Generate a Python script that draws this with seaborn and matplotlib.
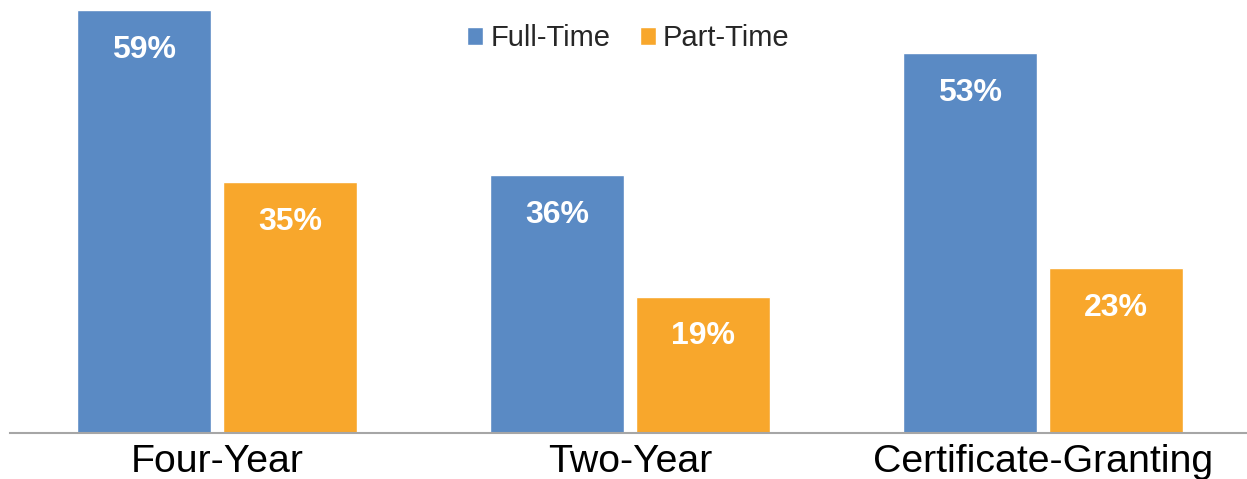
import matplotlib
matplotlib.use("Agg")
import matplotlib.pyplot as plt
import seaborn as sns
import pandas as pd

categories = ["Four-Year", "Two-Year", "Certificate-Granting"]
full_time = [59, 36, 53]
part_time = [35, 19, 23]
series = ["Full-Time", "Part-Time"]
colors = ["#5A8AC4", "#F8A72C"]

df = pd.DataFrame({
    "category": categories * 2,
    "value": full_time + part_time,
    "series": [series[0]] * 3 + [series[1]] * 3,
})

sns.set_theme(style="white")
plt.rcParams["font.family"] = ["Liberation Sans", "DejaVu Sans"]

fig = plt.figure(figsize=(12.47, 4.79), dpi=100)
ax = fig.add_axes([10 / 1247, 46 / 479, 1237 / 1247, 430 / 479])

sns.barplot(data=df, x="category", y="value", hue="series", order=categories,
            hue_order=series, palette=colors, width=0.707, gap=0.083,
            saturation=1, ax=ax, legend=True)

ax.set_ylim(0, 60)
ax.set_xlim(-0.501, 2.494)

for cont in ax.containers:
    for bar in cont:
        h = bar.get_height()
        ax.annotate(f"{h:.0f}%", (bar.get_x() + bar.get_width() / 2, h),
                    xytext=(0, -28.5), textcoords="offset points",
                    ha="center", va="center", color="white",
                    fontsize=23, fontweight="bold")

ax.set_xlabel("")
ax.set_ylabel("")
ax.set_yticks([])
ax.tick_params(axis="x", length=0, pad=8, labelsize=28.3, colors="black")
for s in ["top", "right", "left"]:
    ax.spines[s].set_visible(False)
ax.spines["bottom"].set_color("#A6A6A6")
ax.spines["bottom"].set_linewidth(1.5)

leg = ax.legend(loc="upper center", bbox_to_anchor=(0.5, 1.012), ncol=2,
                frameon=False, fontsize=21, handlelength=0.55, handleheight=0.55,
                handletextpad=0.25, columnspacing=1.0)

fig.savefig("out.png", dpi=100)
